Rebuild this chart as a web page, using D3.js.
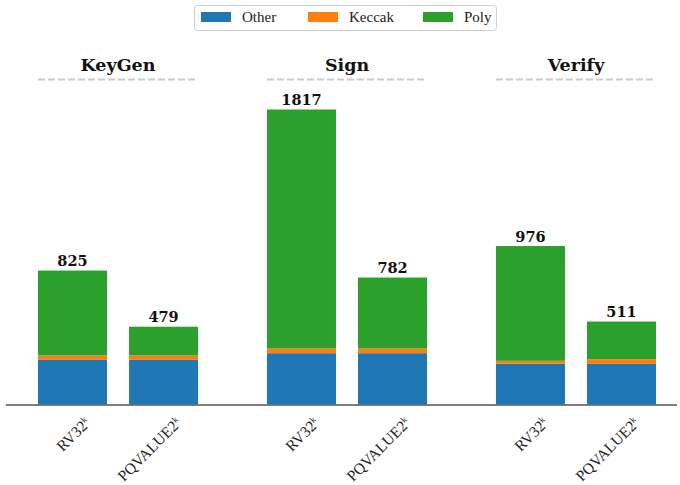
<!DOCTYPE html>
<html><head><meta charset="utf-8">
<script src="https://cdn.jsdelivr.net/npm/d3@7"></script>
<style>body{margin:0;background:#fff}svg{display:block}</style>
</head><body>
<script>
const groups = ["KeyGen", "Sign", "Verify"];
const impls = ["RV32", "PQVALUE2"];
const seriesNames = ["Other", "Keccak", "Poly"];
const colors = ["#1f77b4", "#ff7f0e", "#2ca02c"];
// values per group, per implementation
const otherVals  = [[275, 275], [316, 316], [251, 250]];
const keccakVals = [[27, 27], [29, 29], [18, 29]];
const polyVals   = [[523, 177], [1472, 437], [707, 232]];
const totals     = [[825, 479], [1817, 782], [976, 511]];

const W = 680, H = 485;
const svg = d3.select("body").append("svg").attr("width", W).attr("height", H);

const x0 = d3.scaleBand().domain(groups).range([38, 656]).paddingInner(0.301).paddingOuter(0);
const x1 = d3.scaleBand().domain(impls).range([0, x0.bandwidth()]).paddingInner(0.242).paddingOuter(0);
const y = d3.scaleLinear().domain([0, 1817]).range([404.5, 109.5]);

const serif = "'Liberation Serif', serif";
const bserif = "'DejaVu Serif', serif";

// bars
groups.forEach((g, gi) => {
  impls.forEach((im, ii) => {
    const vals = [otherVals[gi][ii], keccakVals[gi][ii], polyVals[gi][ii]];
    let cum = 0;
    vals.forEach((v, si) => {
      svg.append("rect")
        .attr("x", x0(g) + x1(im))
        .attr("width", x1.bandwidth())
        .attr("y", y(cum + v))
        .attr("height", y(cum) - y(cum + v))
        .attr("fill", colors[si]);
      cum += v;
    });
    svg.append("text")
      .attr("x", x0(g) + x1(im) + x1.bandwidth() / 2)
      .attr("y", y(totals[gi][ii]) - 4.5)
      .attr("text-anchor", "middle")
      .attr("font-family", bserif).attr("font-weight", "bold").attr("font-size", 14.5)
      .attr("fill", "#111")
      .text(totals[gi][ii]);
    // tick label
    const cx = x0(g) + x1(im) + x1.bandwidth() / 2;
    const t = svg.append("text")
      .attr("transform", `translate(${cx + 15},${420}) rotate(-45)`)
      .attr("text-anchor", "end")
      .attr("dy", "0.35em")
      .attr("font-family", serif).attr("font-size", 15.5).attr("fill", "#222");
    t.append("tspan").text(im);
    t.append("tspan").attr("font-size", 9).attr("dy", "-0.6em").text("k");
  });
  // group title
  const gx = x0(g) + x0.bandwidth() / 2;
  svg.append("text")
    .attr("x", gx).attr("y", 71)
    .attr("text-anchor", "middle")
    .attr("font-family", bserif).attr("font-weight", "bold").attr("font-size", 17.5)
    .attr("fill", "#111")
    .text(g);
  svg.append("line")
    .attr("x1", x0(g)).attr("x2", x0(g) + x0.bandwidth())
    .attr("y1", 79.5).attr("y2", 79.5)
    .attr("stroke", "#cccccc").attr("stroke-width", 2)
    .attr("stroke-dasharray", "7,3");
});

// baseline
svg.append("line").attr("x1", 6).attr("x2", 677).attr("y1", 405).attr("y2", 405)
  .attr("stroke", "#555").attr("stroke-width", 1.5);

// legend
const lg = svg.append("g");
lg.append("rect").attr("x", 194.5).attr("y", 5.5).attr("width", 302).attr("height", 25)
  .attr("rx", 3).attr("fill", "#fff").attr("stroke", "#d0d0d0").attr("stroke-width", 1);
const lx = [201, 308, 423];
seriesNames.forEach((s, i) => {
  lg.append("rect").attr("x", lx[i]).attr("y", 12).attr("width", 30).attr("height", 10).attr("fill", colors[i]);
  lg.append("text").attr("x", lx[i] + 41).attr("y", 22)
    .attr("font-family", serif).attr("font-size", 15).attr("fill", "#222").text(s);
});
</script>
</body></html>
